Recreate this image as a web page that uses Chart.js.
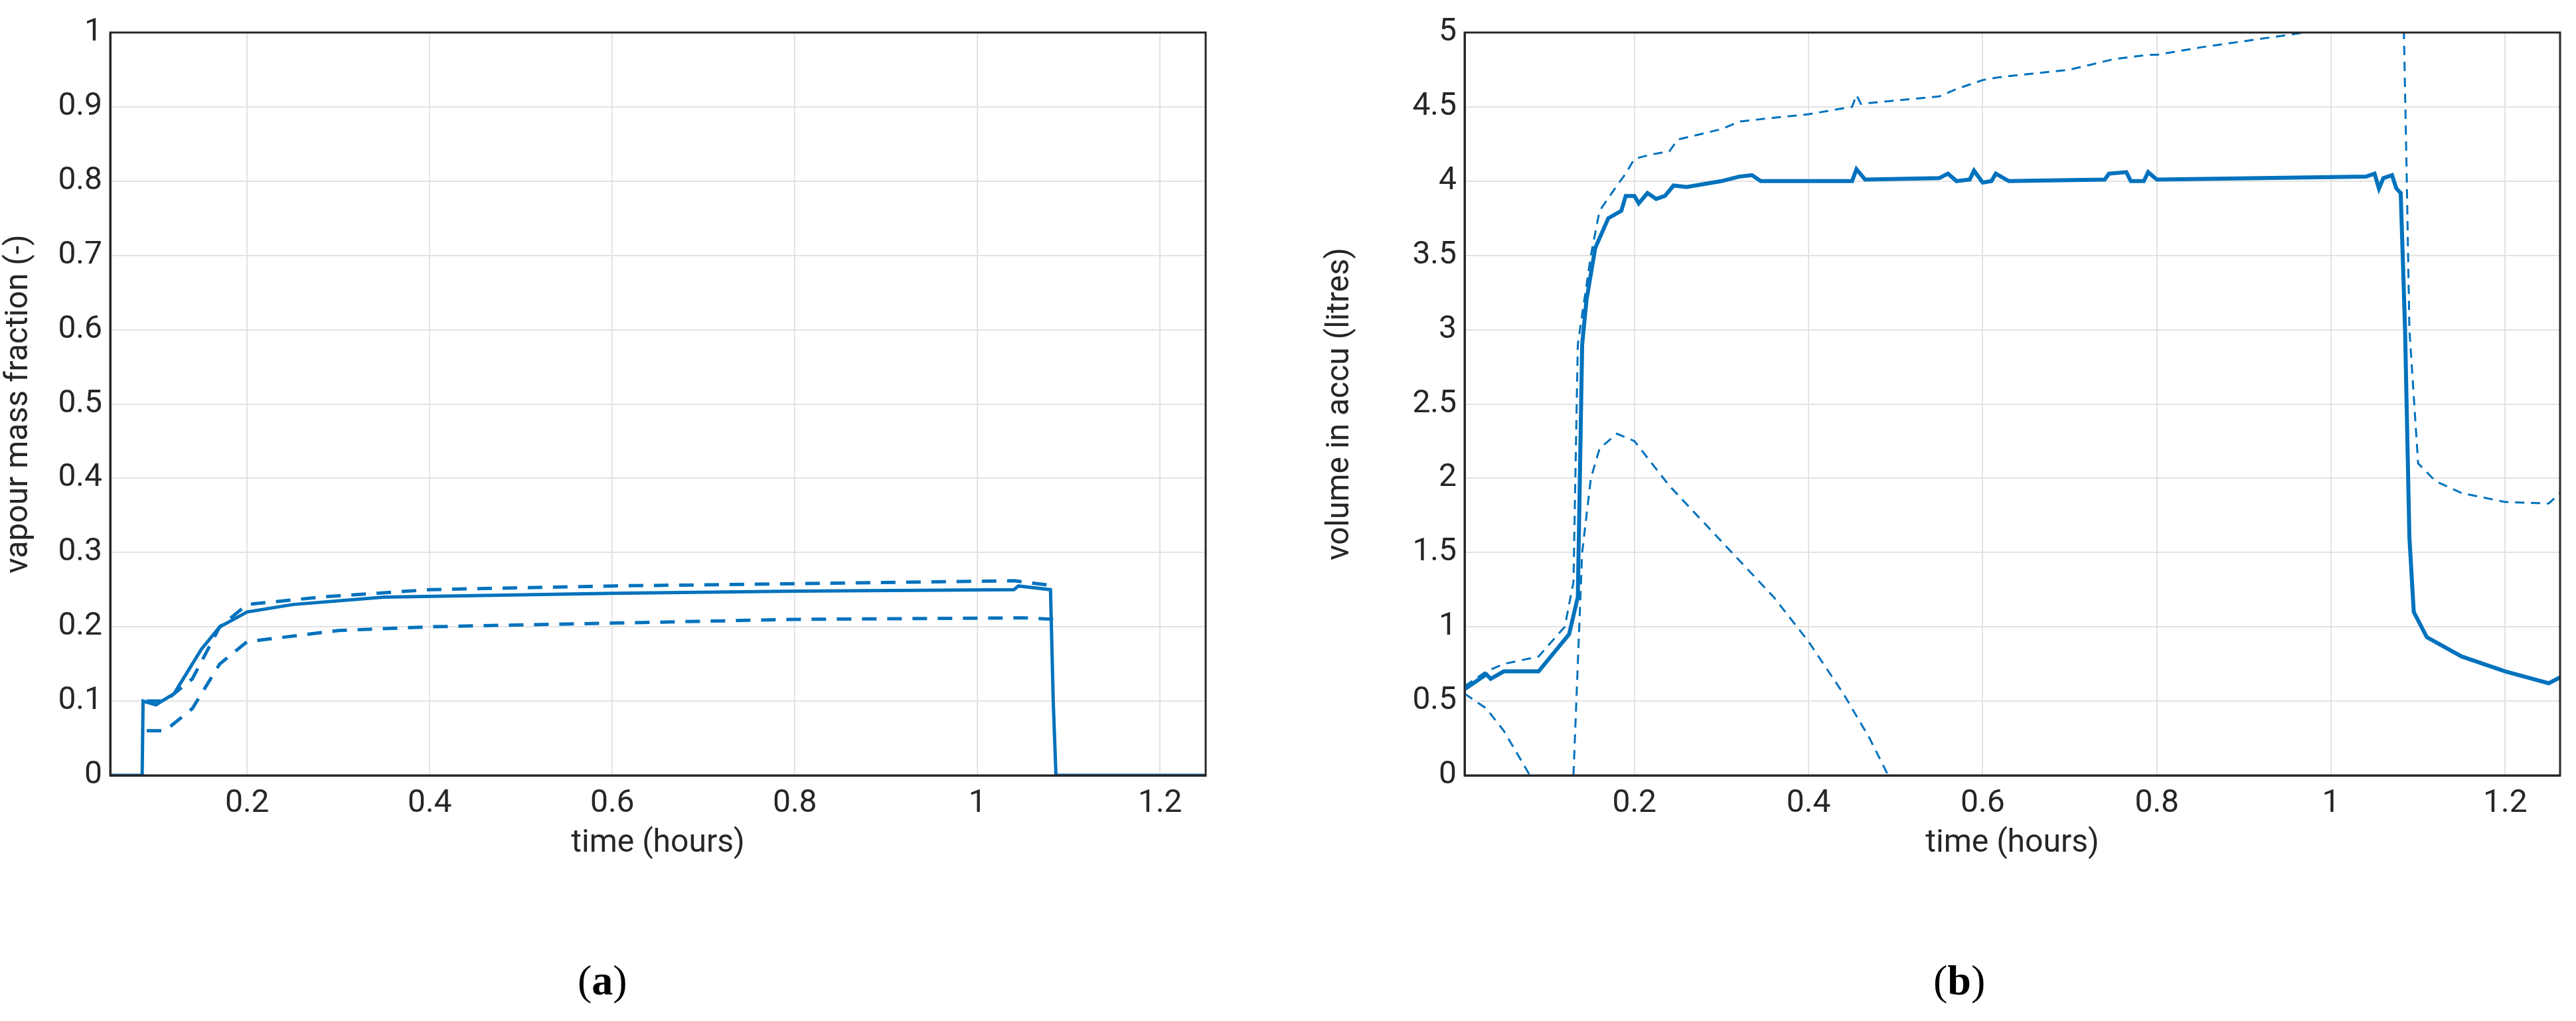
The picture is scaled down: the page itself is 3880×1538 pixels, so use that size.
<!DOCTYPE html>
<html>
<head>
<meta charset="utf-8">
<script src="https://cdn.jsdelivr.net/npm/chart.js@4"></script>
<style>
  body { margin: 0; background: #fff; width: 3880px; height: 1538px; position: relative; overflow: hidden; }
  .box { position: absolute; top: 0; }
  .cap { position: absolute; top: 1440px; font-family: "Liberation Serif", serif; font-size: 64px; color: #000; }
</style>
</head>
<body>
<div class="box" style="left:0;width:1940px;height:1300px"><canvas id="chartA"></canvas></div>
<div class="box" style="left:1990px;width:1890px;height:1300px"><canvas id="chartB"></canvas></div>
<div class="cap" style="left:870px">(<b>a</b>)</div>
<div class="cap" style="left:2912px">(<b>b</b>)</div>
<script>
// (a) vapour mass fraction
const timeA = [0.05, 0.085, 0.086, 0.1, 0.12, 0.15, 0.17, 0.2, 0.25, 0.35, 0.6, 0.8, 1.04, 1.045, 1.08, 1.083, 1.086, 1.25];
const fracA = [0, 0, 0.1, 0.095, 0.11, 0.17, 0.2, 0.22, 0.23, 0.24, 0.245, 0.248, 0.25, 0.255, 0.25, 0.1, 0, 0];
const timeAup = [0.09, 0.11, 0.14, 0.17, 0.2, 0.28, 0.4, 0.6, 0.8, 1.04, 1.085];
const fracAup = [0.1, 0.1, 0.13, 0.2, 0.23, 0.24, 0.25, 0.255, 0.258, 0.262, 0.255];
const timeAlo = [0.09, 0.11, 0.14, 0.17, 0.2, 0.3, 0.4, 0.6, 0.8, 1.05, 1.085];
const fracAlo = [0.06, 0.06, 0.09, 0.15, 0.18, 0.195, 0.2, 0.205, 0.21, 0.212, 0.21];
const ticksA = [0, 0.1, 0.2, 0.3, 0.4, 0.5, 0.6, 0.7, 0.8, 0.9, 1];

// (b) volume in accu
const timeB = [0.005,0.03,0.035,0.05,0.09,0.125,0.135,0.14,0.145,0.155,0.17,0.185,0.19,0.2,0.205,0.215,0.225,0.235,0.245,0.26,0.3,0.32,0.335,0.345,0.45,0.455,0.465,0.55,0.56,0.57,0.585,0.59,0.6,0.61,0.615,0.63,0.74,0.745,0.765,0.77,0.785,0.79,0.8,1.04,1.05,1.055,1.06,1.07,1.075,1.08,1.085,1.09,1.095,1.11,1.15,1.2,1.25,1.263];
const volB = [0.58,0.68,0.65,0.7,0.7,0.95,1.2,2.9,3.2,3.55,3.75,3.8,3.9,3.9,3.85,3.92,3.88,3.9,3.97,3.96,4.0,4.03,4.04,4.0,4.0,4.08,4.01,4.02,4.05,4.0,4.01,4.07,3.99,4.0,4.05,4.0,4.01,4.05,4.06,4.0,4.0,4.06,4.01,4.03,4.05,3.95,4.02,4.04,3.95,3.92,3.0,1.6,1.1,0.93,0.8,0.7,0.62,0.66];
const timeBup = [0.005,0.03,0.05,0.09,0.12,0.13,0.135,0.15,0.16,0.18,0.19,0.2,0.22,0.24,0.25,0.3,0.32,0.35,0.4,0.45,0.455,0.46,0.55,0.57,0.6,0.62,0.7,0.75,0.79,0.8,0.85,0.97,0.98,1.083,1.087,1.09,1.1,1.12,1.15,1.2,1.25,1.263];
const volBup = [0.6,0.7,0.75,0.8,1.0,1.3,2.9,3.5,3.8,3.97,4.05,4.15,4.18,4.2,4.28,4.35,4.4,4.42,4.45,4.5,4.58,4.52,4.57,4.62,4.68,4.7,4.75,4.82,4.85,4.85,4.9,5.0,5.03,5.2,4.0,3.0,2.1,1.98,1.9,1.84,1.83,1.9];
const timeBlo = [0.005,0.03,0.05,0.08,0.085,0.12,0.13,0.14,0.15,0.16,0.18,0.2,0.22,0.24,0.28,0.32,0.36,0.4,0.44,0.47,0.5];
const volBlo = [0.55,0.45,0.3,0,-0.1,null,0,1.5,2.0,2.2,2.3,2.25,2.1,1.95,1.7,1.45,1.2,0.9,0.55,0.25,-0.1];
const ticksB = [0, 0.5, 1, 1.5, 2, 2.5, 3, 3.5, 4, 4.5, 5];
const ticksX = [0.2, 0.4, 0.6, 0.8, 1, 1.2];

const blue = '#0072BD';
const font = { family: 'Roboto, "Liberation Sans", sans-serif', size: 48 };
const pts = (xs, ys) => xs.map((x, i) => ({ x: x, y: ys[i] }));
const fmt = v => String(+v.toFixed(2));

function line(xs, ys, width, dash) {
    return { data: pts(xs, ys), showLine: true, borderColor: blue, borderWidth: width,
             borderDash: dash, pointRadius: 0, spanGaps: false, tension: 0 };
}

function makeChart(id, datasets, xmin, xmax, yticks, ytitle, yWidth, rightPad) {
    new Chart(document.getElementById(id), {
        type: 'scatter',
        data: { datasets: datasets },
        options: {
            responsive: true, maintainAspectRatio: false, animation: false,
            layout: { padding: { top: 49, right: rightPad, left: 0, bottom: 0 } },
            plugins: { legend: { display: false }, tooltip: { enabled: false } },
            scales: {
                x: {
                    type: 'linear', min: xmin, max: xmax,
                    afterBuildTicks: s => { s.ticks = ticksX.map(v => ({ value: v })); },
                    afterFit: s => { s.height = 132; },
                    grid: { color: '#e3e3e3', lineWidth: 2, drawTicks: false },
                    border: { color: '#262626', width: 3 },
                    ticks: { font: font, color: '#262626', padding: 14, maxRotation: 0, callback: fmt },
                    title: { display: true, text: 'time (hours)', font: font, color: '#262626', padding: 0 }
                },
                y: {
                    min: yticks[0], max: yticks[yticks.length - 1],
                    afterBuildTicks: s => { s.ticks = yticks.map(v => ({ value: v })); },
                    afterFit: s => { s.width = yWidth; },
                    grid: { color: '#e3e3e3', lineWidth: 2, drawTicks: false },
                    border: { color: '#262626', width: 3 },
                    ticks: { font: font, color: '#262626', padding: 12, callback: fmt },
                    title: { display: true, text: ytitle, font: font, color: '#262626', padding: 0 }
                }
            }
        },
        plugins: [{
            id: 'frame',
            afterDraw(c) {
                const a = c.chartArea, g = c.ctx;
                g.save();
                g.strokeStyle = '#262626'; g.lineWidth = 3;
                g.strokeRect(a.left, a.top, a.right - a.left, a.bottom - a.top);
                g.restore();
            }
        }]
    });
}

makeChart('chartA', [
    line(timeA, fracA, 5, []),
    line(timeAup, fracAup, 5, [22, 16]),
    line(timeAlo, fracAlo, 5, [22, 16])
], 0.05, 1.25, ticksA, 'vapour mass fraction (-)', 166, 124);

makeChart('chartB', [
    line(timeB, volB, 6, []),
    line(timeBup, volBup, 3, [14, 10]),
    line(timeBlo, volBlo, 3, [14, 10])
], 0.005, 1.263, ticksB, 'volume in accu (litres)', 216, 24);
</script>
</body>
</html>
